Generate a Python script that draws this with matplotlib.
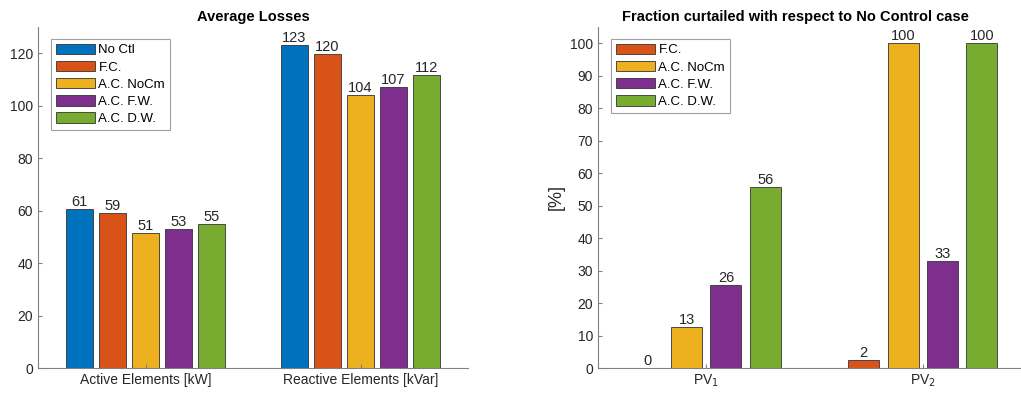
"""
Average losses and curtailed fraction, grouped bar charts
"""
import matplotlib
matplotlib.use("Agg")
import matplotlib.pyplot as plt
import numpy as np

plt.rcParams['font.family'] = ['Liberation Sans', 'DejaVu Sans']

# data
loss_groups = ['Active Elements [kW]', 'Reactive Elements [kVar]']
loss_series = ['No Ctl', 'F.C.', 'A.C. NoCm', 'A.C. F.W.', 'A.C. D.W.']
loss_values = [
    [60.7, 123.3],
    [59.0, 119.7],
    [51.4, 104.1],
    [52.9, 107.3],
    [55.0, 111.6],
]

curt_groups = ['PV$_1$', 'PV$_2$']
curt_series = ['F.C.', 'A.C. NoCm', 'A.C. F.W.', 'A.C. D.W.']
curt_values = [
    [0.0, 2.4],
    [12.7, 100.0],
    [25.6, 33.0],
    [55.7, 100.0],
]

colors = {'No Ctl': '#0072BD', 'F.C.': '#D95319', 'A.C. NoCm': '#EDB120',
          'A.C. F.W.': '#7E2F8E', 'A.C. D.W.': '#77AC30'}

TXT = '#262626'
AX = '#808080'


def grouped_bars(ax, groups, series, values, step, width):
    x = np.arange(1, len(groups) + 1)
    n = len(series)
    for i, (name, vals) in enumerate(zip(series, values)):
        off = (i - (n - 1) / 2) * step
        bars = ax.bar(x + off, vals, width, color=colors[name],
                      edgecolor='#333333', linewidth=0.6, label=name)
        for b, v in zip(bars, vals):
            ax.text(b.get_x() + b.get_width() / 2, v, f'{round(v):d}',
                    ha='center', va='bottom', fontsize=10.5, color=TXT)
    ax.set_xticks(x)
    ax.set_xticklabels(groups)
    ax.set_xlim(0.5, len(groups) + 0.5)
    for s in ['top', 'right']:
        ax.spines[s].set_visible(False)
    for s in ['left', 'bottom']:
        ax.spines[s].set_color(AX)
    ax.tick_params(direction='in', colors=TXT, labelsize=10, length=3,
                   color=AX)
    leg = ax.legend(loc='upper left', bbox_to_anchor=(0.03, 0.965),
                    fontsize=9.5, handlelength=3.0, handleheight=0.85,
                    handletextpad=0.25, labelspacing=0.33, borderpad=0.35,
                    borderaxespad=0, fancybox=False, edgecolor='#a0a0a0',
                    framealpha=1)
    leg.get_frame().set_linewidth(0.8)


fig = plt.figure(figsize=(10.21, 3.94), dpi=100)

ax1 = fig.add_axes([38 / 1021, 1 - 368 / 394, 430 / 1021, 341 / 394])
grouped_bars(ax1, loss_groups, loss_series, loss_values, 0.1536, 0.123)
ax1.set_ylim(0, 130)
ax1.set_yticks(np.arange(0, 121, 20))
ax1.set_title('Average Losses', fontsize=10.5, fontweight='bold',
              color='black', pad=4)

ax2 = fig.add_axes([598 / 1021, 1 - 368 / 394, 433 / 1021, 341 / 394])
grouped_bars(ax2, curt_groups, curt_series, curt_values, 0.1815, 0.144)
ax2.set_ylim(0, 105)
ax2.set_yticks(np.arange(0, 101, 10))
ax2.set_ylabel('[%]', fontsize=13, color=TXT, labelpad=4)
ax2.set_title('Fraction curtailed with respect to No Control case',
              fontsize=10.5, fontweight='bold', color='black', pad=4,
              x=0.455)

fig.savefig('out.png', dpi=100)
